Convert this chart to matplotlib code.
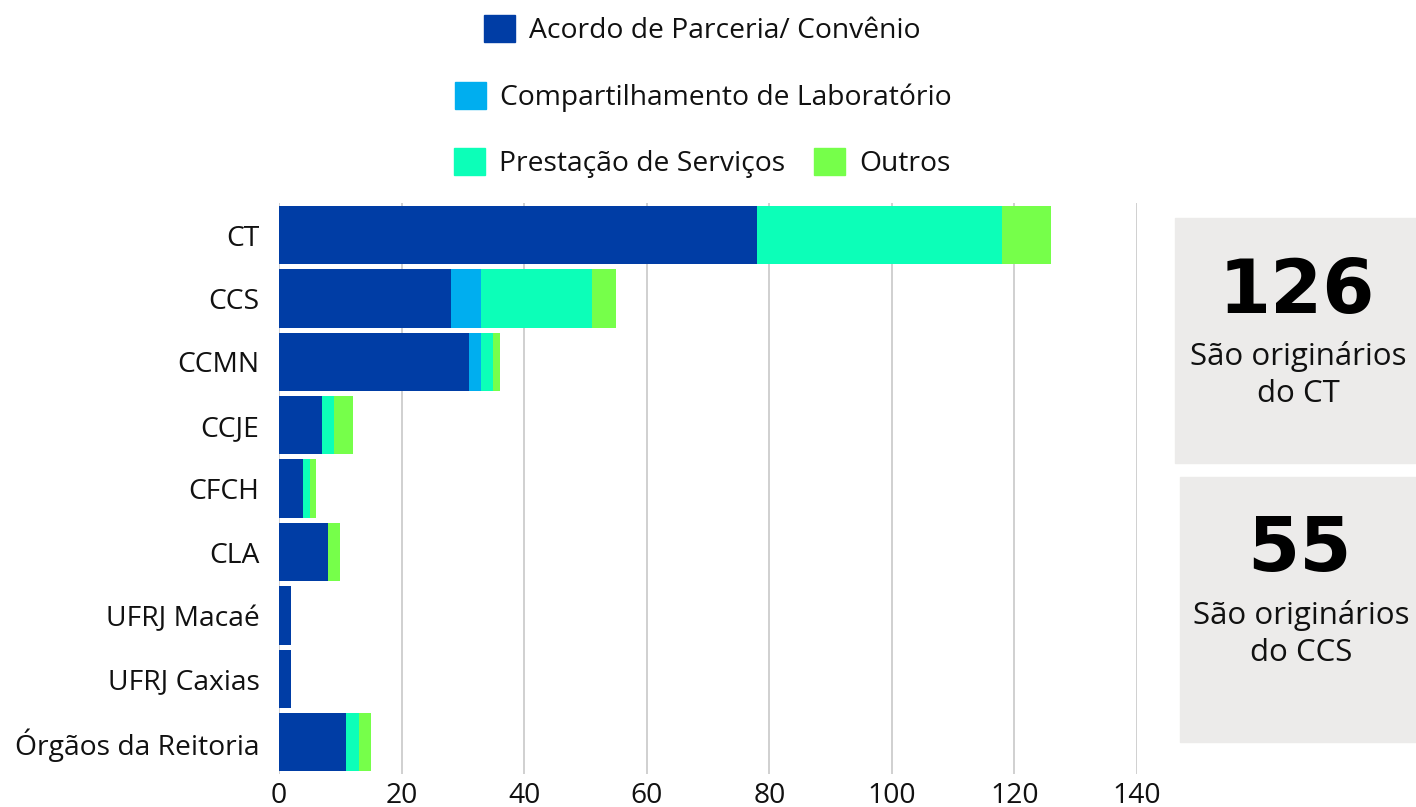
import numpy as np
import matplotlib
matplotlib.use('Agg')
import matplotlib.pyplot as plt
from matplotlib.patches import Rectangle, Patch

plt.rcParams['font.family'] = ['Open Sans', 'DejaVu Sans']

centros = ['CT', 'CCS', 'CCMN', 'CCJE', 'CFCH', 'CLA', 'UFRJ Macaé', 'UFRJ Caxias', 'Órgãos da Reitoria']
acordo = [78, 28, 31, 7, 4, 8, 2, 2, 11]
compart = [0, 5, 2, 0, 0, 0, 0, 0, 0]
prestacao = [40, 18, 2, 2, 1, 0, 0, 0, 2]
outros = [8, 4, 1, 3, 1, 2, 0, 0, 2]

series = ['Acordo de Parceria/ Convênio', 'Compartilhamento de Laboratório', 'Prestação de Serviços', 'Outros']
cores = ['#003DA5', '#00AEEF', '#0CFFB8', '#76FF4A']

fig = plt.figure(figsize=(14.16, 8.07), dpi=100)
ax = fig.add_axes([0.197, 0.041, 0.606, 0.707])

y = np.arange(len(centros))
left = np.zeros(len(centros))
for vals, cor in zip([acordo, compart, prestacao, outros], cores):
    ax.barh(y, vals, left=left, height=0.92, color=cor, zorder=3)
    left = left + np.array(vals)

ax.set_ylim(len(centros) - 0.5, -0.5)
ax.set_xlim(0, 140)
ax.set_xticks(range(0, 141, 20))
ax.set_yticks(y)
ax.set_yticklabels(centros, fontsize=20.3, color='#111111')
ax.tick_params(axis='x', labelsize=20.3, length=0, pad=6, labelcolor='#111111')
ax.tick_params(axis='y', length=0, pad=14)
ax.grid(axis='x', color='#c8c8c8', linewidth=1.2, zorder=0)
for s in ax.spines.values():
    s.set_visible(False)

# legenda em três linhas
h = [Patch(color=c) for c in cores]
kw = dict(frameon=False, fontsize=20.3, handlelength=1.1, handleheight=1.1, handletextpad=0.5,
          loc='center', labelcolor='#111111')
fig.legend([h[0]], [series[0]], bbox_to_anchor=(0.496, 0.963), **kw)
fig.legend([h[1]], [series[1]], bbox_to_anchor=(0.497, 0.880), **kw)
fig.legend([h[2], h[3]], [series[2], series[3]], ncol=2, columnspacing=1.0, bbox_to_anchor=(0.496, 0.798), **kw)

# caixas de destaque
for (x0, y0, x1, y1), num, txt in [((1175, 218, 1416, 463), '126', 'São originários\ndo CT'),
                                   ((1180, 477, 1416, 742), '55', 'São originários\ndo CCS')]:
    fig.patches.append(Rectangle((x0 / 1416, 1 - y1 / 807), (x1 - x0) / 1416, (y1 - y0) / 807,
                                 transform=fig.transFigure, color='#ECEBEA', zorder=0))
    cx = (x0 + x1) / 2 / 1416
    fig.text(cx + 0.001, 1 - (y0 + 74) / 807, num, ha='center', va='center', fontsize=54,
             fontweight='black', family=['DejaVu Sans'])
    fig.text(cx + 0.002, 1 - (y0 + 157) / 807, txt, ha='center', va='center', fontsize=22.5,
             linespacing=1.3, color='#111111')

fig.savefig('out.png', dpi=100)
